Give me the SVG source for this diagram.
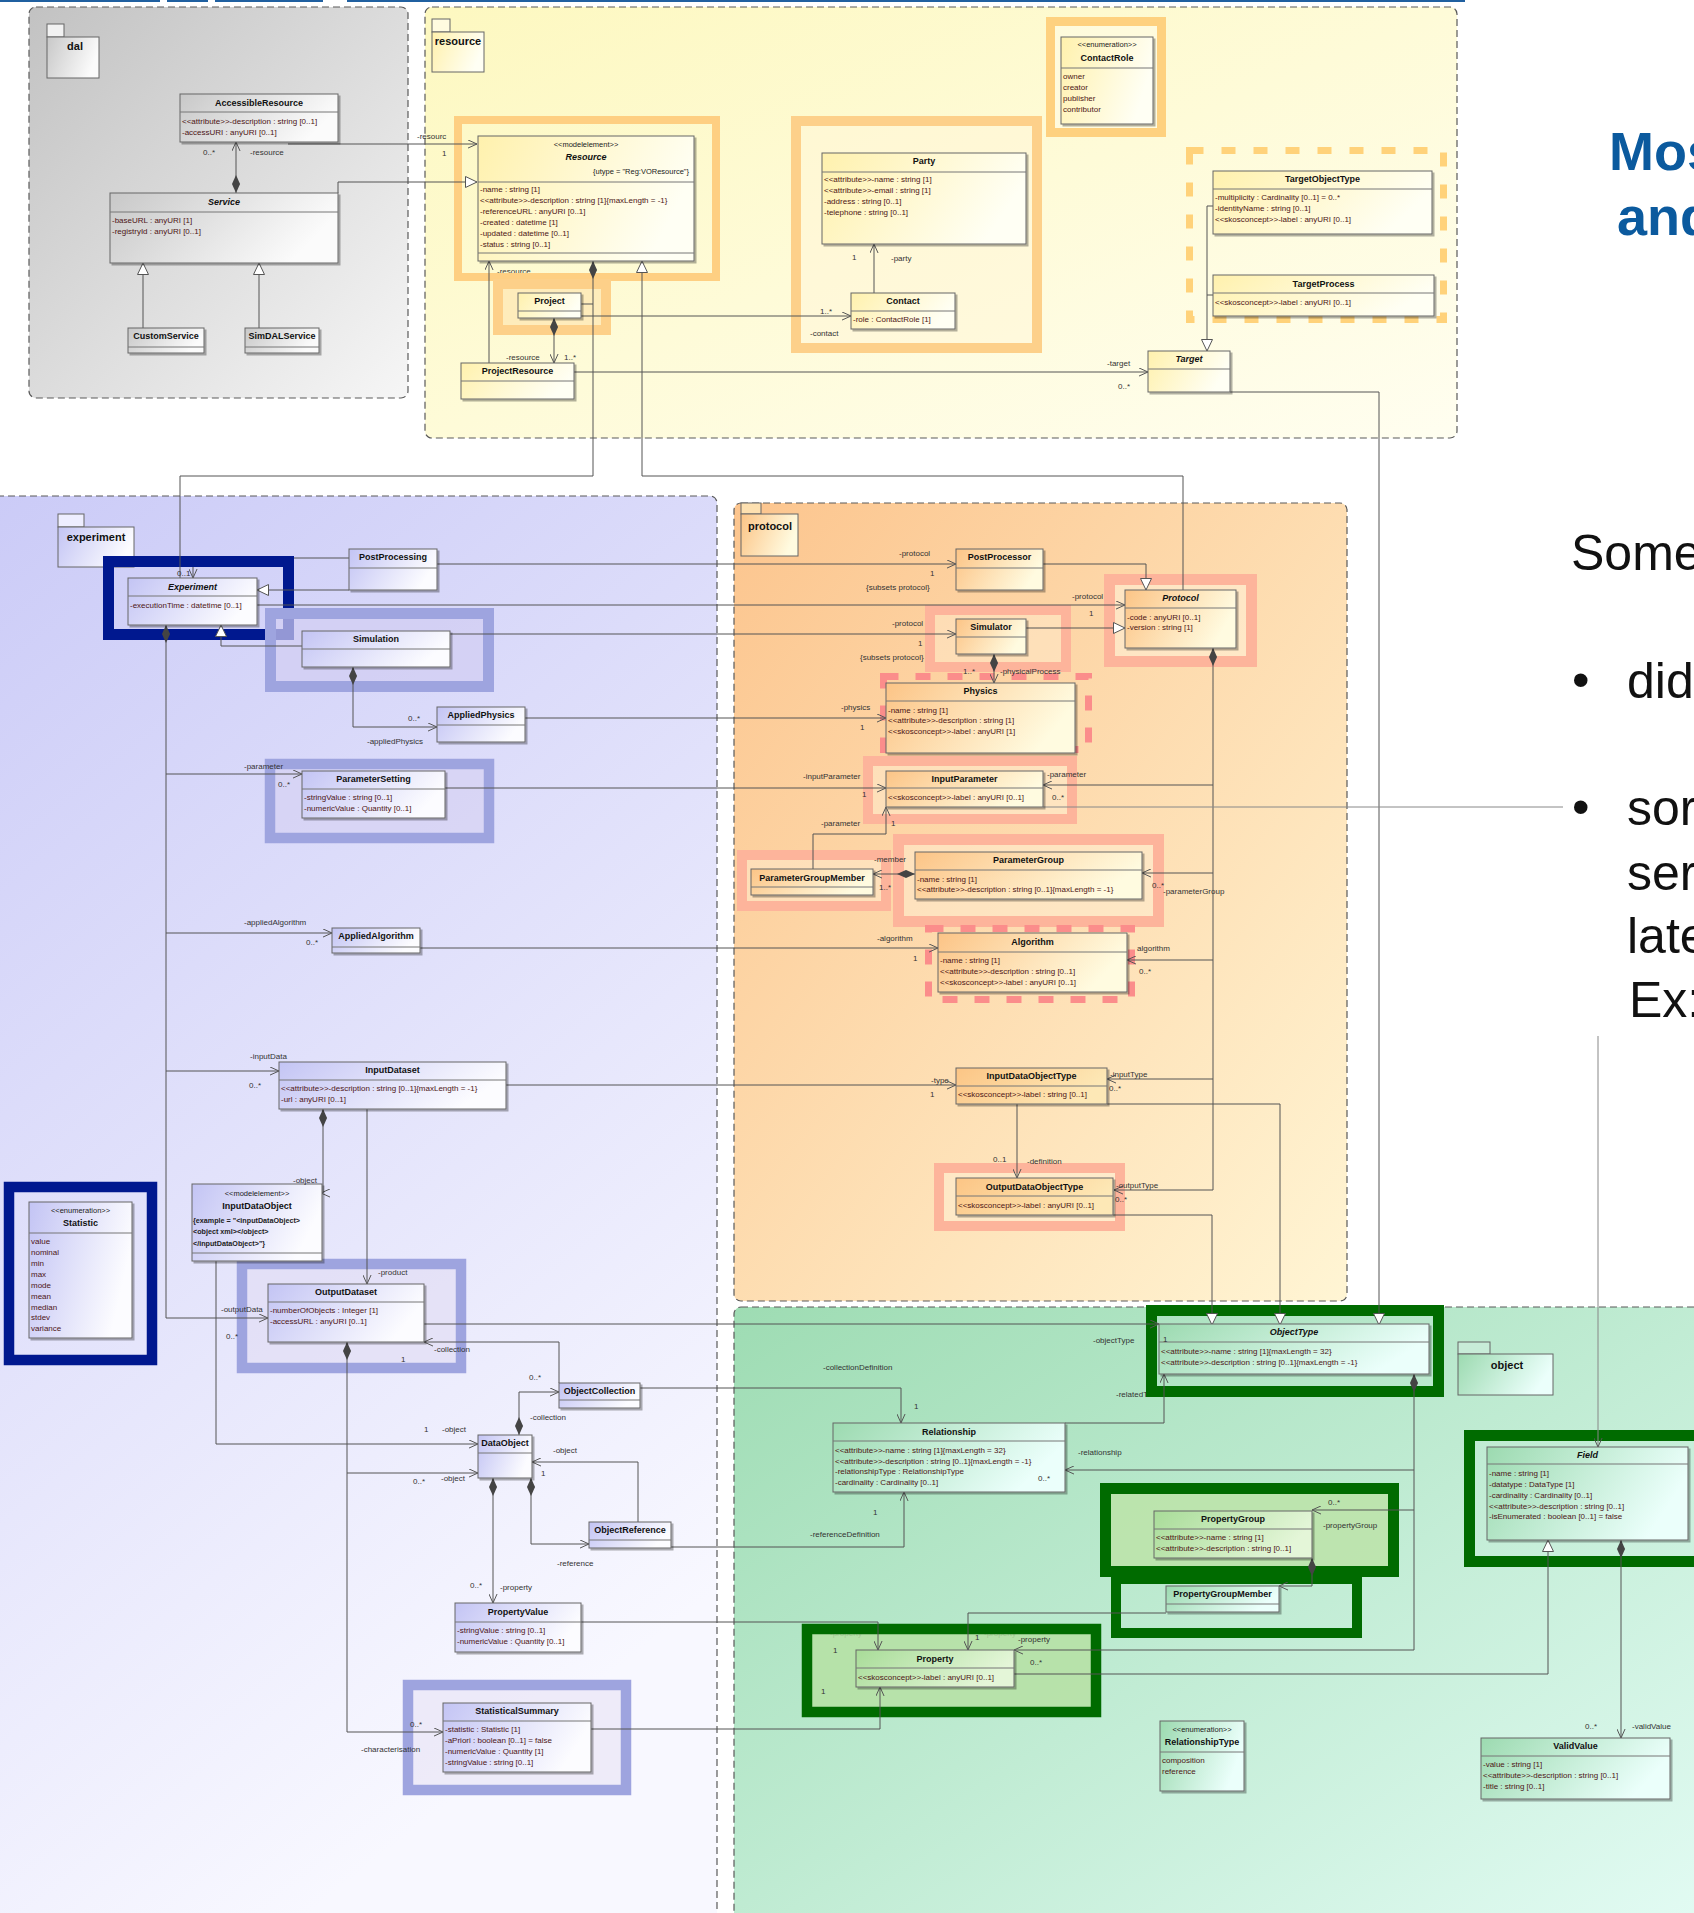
<svg xmlns="http://www.w3.org/2000/svg" width="1694" height="1913" viewBox="0 0 1694 1913">
<style>
.pk{stroke:#5a5a5a;stroke-width:1.2;stroke-dasharray:7 4}
.tab{stroke:#666;stroke-width:1}
.pl{font-family:'Liberation Sans',Arial,sans-serif;font-size:11px;font-weight:bold;fill:#111;text-anchor:middle}
.b{stroke:#666;stroke-width:1;filter:url(#sh)}
.s{stroke:#777;stroke-width:1}
.t{font-family:'Liberation Sans',Arial,sans-serif;font-size:9px;font-weight:bold;text-anchor:middle;fill:#111}
.i{font-style:italic}
.a{font-family:'Liberation Sans',Arial,sans-serif;font-size:8px;fill:#4d1515}
.st{font-family:'Liberation Sans',Arial,sans-serif;font-size:7.5px;text-anchor:middle;fill:#222}
.cs{font-family:'Liberation Sans',Arial,sans-serif;font-size:7.2px;font-weight:bold;fill:#222}
.l{font-family:'Liberation Sans',Arial,sans-serif;font-size:8px;fill:#333}
.c{fill:none;stroke:#555;stroke-width:1}
.ar{marker-end:url(#open)}
.tr{marker-end:url(#tri)}
.dm{marker-start:url(#dia)}
.fo{fill:none;stroke:#fecf82}
.fs{stroke:#fdb49b}
.fb{fill:none;stroke:#00188f}
.fp{stroke:#9ea4df}
.fg{stroke:#006b00}
.big{font-family:'Liberation Sans',Arial,sans-serif;font-size:50px;fill:#111}
.ttl{font-family:'Liberation Sans',Arial,sans-serif;font-size:54px;font-weight:bold;fill:#0b5a9e}
</style>
<defs>
<filter id="sh" x="-5%" y="-5%" width="115%" height="130%"><feDropShadow dx="2" dy="2" stdDeviation="0.7" flood-color="#000" flood-opacity="0.3"/></filter>
<marker id="open" viewBox="0 0 10 10" refX="10" refY="5" markerWidth="9" markerHeight="9" markerUnits="userSpaceOnUse" orient="auto"><path d="M0,0.5 L10,5 L0,9.5" fill="none" stroke="#555" stroke-width="1.1"/></marker>
<marker id="tri" viewBox="0 0 12 12" refX="12" refY="6" markerWidth="12" markerHeight="12" markerUnits="userSpaceOnUse" orient="auto"><path d="M0.5,0.5 L12,6 L0.5,11.5 Z" fill="#fff" stroke="#555"/></marker>
<marker id="dia" viewBox="0 0 20 10" refX="0" refY="5" markerWidth="20" markerHeight="9" markerUnits="userSpaceOnUse" orient="auto"><path d="M0,5 L10,0.5 L20,5 L10,9.5 Z" fill="#444"/></marker>
<linearGradient id="pkD" x1="0" y1="0" x2="1" y2="1"><stop offset="0" stop-color="#c2c2c2"/><stop offset="1" stop-color="#f6f6f6"/></linearGradient>
<linearGradient id="pkR" x1="0" y1="0" x2="1" y2="1"><stop offset="0" stop-color="#fdf8c0"/><stop offset="1" stop-color="#fffef0"/></linearGradient>
<linearGradient id="pkE" x1="0" y1="0" x2="0.4" y2="1"><stop offset="0" stop-color="#cbcbf7"/><stop offset="1" stop-color="#f8f8ff"/></linearGradient>
<linearGradient id="pkP" x1="0" y1="0" x2="1" y2="1"><stop offset="0" stop-color="#fcc58e"/><stop offset="1" stop-color="#fff5d4"/></linearGradient>
<linearGradient id="pkO" x1="0" y1="0" x2="1" y2="1"><stop offset="0" stop-color="#9edcb3"/><stop offset="1" stop-color="#e4fcf5"/></linearGradient>
<linearGradient id="bxD" x1="0" y1="0" x2="1" y2="0.3"><stop offset="0" stop-color="#c8c8c8"/><stop offset="1" stop-color="#fbfbfb"/></linearGradient>
<linearGradient id="bxR" x1="0" y1="0" x2="1" y2="0.3"><stop offset="0" stop-color="#fff1ad"/><stop offset="1" stop-color="#fffff4"/></linearGradient>
<linearGradient id="bxE" x1="0" y1="0" x2="1" y2="0.3"><stop offset="0" stop-color="#c3c4f4"/><stop offset="1" stop-color="#fcfcff"/></linearGradient>
<linearGradient id="bxP" x1="0" y1="0" x2="1" y2="0.3"><stop offset="0" stop-color="#fcc486"/><stop offset="1" stop-color="#fffbe0"/></linearGradient>
<linearGradient id="bxP2" x1="0" y1="0" x2="1" y2="0.3"><stop offset="0" stop-color="#fcc585"/><stop offset="1" stop-color="#fde8b6"/></linearGradient>
<linearGradient id="bxO" x1="0" y1="0" x2="1" y2="0.3"><stop offset="0" stop-color="#9cdab0"/><stop offset="1" stop-color="#ebfffb"/></linearGradient>
<linearGradient id="bxG" x1="0" y1="0" x2="1" y2="0.3"><stop offset="0" stop-color="#a8dc98"/><stop offset="1" stop-color="#e4f6d8"/></linearGradient>
</defs>
<rect width="1694" height="1913" fill="#fff"/>
<g id="topline" fill="#2060a0"><rect x="0" y="0" width="160" height="2"/><rect x="167" y="0" width="41" height="2"/><rect x="215" y="0" width="108" height="2"/><rect x="347" y="0" width="1118" height="2"/></g>

<!-- packages -->
<g id="pkg-dal"><rect class="pk" x="29" y="7" width="379" height="391" rx="7" fill="url(#pkD)"/><rect class="tab" x="47" y="24" width="17" height="13" fill="#f2f2f2"/><rect class="tab" x="47" y="37" width="52" height="41" fill="url(#bxD)"/><text class="pl" x="75" y="50">dal</text></g>
<g id="pkg-resource"><rect class="pk" x="425" y="7" width="1032" height="431" rx="7" fill="url(#pkR)"/><rect class="tab" x="432" y="19" width="18" height="13" fill="#fffbe0"/><rect class="tab" x="432" y="32" width="52" height="40" fill="url(#bxR)"/><text class="pl" x="458" y="45">resource</text></g>
<g id="pkg-experiment"><rect class="pk" x="-10" y="496" width="727" height="1440" rx="7" fill="url(#pkE)"/><rect class="tab" x="58" y="514" width="26" height="13" fill="#eeeeff"/><rect class="tab" x="58" y="527" width="76" height="40" fill="url(#bxE)"/><text class="pl" x="96" y="541">experiment</text></g>
<g id="pkg-protocol"><rect class="pk" x="734" y="503" width="613" height="798" rx="7" fill="url(#pkP)"/><rect class="tab" x="741" y="503" width="20" height="11" fill="#fde0b0"/><rect class="tab" x="741" y="514" width="57" height="42" fill="url(#bxP)"/><text class="pl" x="770" y="530">protocol</text></g>
<g id="pkg-object"><rect class="pk" x="734" y="1307" width="990" height="640" rx="7" fill="url(#pkO)"/><rect class="tab" x="1458" y="1342" width="32" height="12" fill="#c8ecd8"/><rect class="tab" x="1458" y="1354" width="95" height="41" fill="url(#bxO)"/><text class="pl" x="1507" y="1369">object</text></g>

<!-- occluded labels -->
<g id="under-labels" class="l">
<text x="497" y="274">-resource</text>
<text x="1116" y="1397">-relatedTo</text>
<text x="1235" y="1583">-member</text>
<text x="984" y="1636">-property</text>
<text x="830" y="1636">-property</text>
</g>

<!-- highlight frames -->
<g id="highlights">
<rect class="fo" x="458" y="120" width="258" height="157" stroke-width="8"/>
<rect x="498" y="284" width="108" height="46" fill="#fde6b0" fill-opacity="0.7" stroke="#fdd089" stroke-width="10"/>
<rect x="796" y="121" width="241" height="227" fill="#fff6d8" fill-opacity="0.5" stroke="#fdd08a" stroke-width="10"/>
<rect x="1050.5" y="21.5" width="111" height="111" fill="#fffbe4" fill-opacity="0.6" stroke="#fed17f" stroke-width="9"/>
<rect x="1189.5" y="150.5" width="254" height="169" fill="none" stroke="#ffd27a" stroke-width="7" stroke-dasharray="14 18"/>
<rect class="fs" x="1109.5" y="579.5" width="142" height="82" fill="#fff0d8" fill-opacity="0.55" stroke-width="11"/>
<rect class="fs" x="930" y="610" width="136" height="57" fill="#fff0d8" fill-opacity="0.4" stroke-width="10"/>
<rect class="fs" x="868" y="761" width="204" height="58" fill="#fff0d8" fill-opacity="0.45" stroke-width="10"/>
<rect class="fs" x="742" y="855" width="144" height="51" fill="#fff0d8" fill-opacity="0.45" stroke-width="10"/>
<rect class="fs" x="898.5" y="839.5" width="260" height="82" fill="#fff0d8" fill-opacity="0.45" stroke-width="11"/>
<rect class="fs" x="939" y="1168" width="181" height="58" fill="#fff0d8" fill-opacity="0.45" stroke-width="10"/>
<rect x="883.5" y="676.5" width="205" height="73" fill="none" stroke="#fb8d8b" stroke-width="7" stroke-dasharray="15 17"/>
<rect x="928.5" y="928.5" width="203" height="71" fill="none" stroke="#fb8d8b" stroke-width="7" stroke-dasharray="15 17"/>
<rect class="fb" x="108.5" y="561.5" width="180" height="73" stroke-width="11"/>
<rect class="fb" x="9" y="1187" width="143" height="173" stroke-width="10.5"/>
<rect class="fp" x="270.5" y="613.5" width="218" height="73" fill="#d2cdf2" fill-opacity="0.7" stroke-width="11"/>
<rect class="fp" x="270" y="764" width="219" height="74" fill="#d6d1f2" fill-opacity="0.6" stroke-width="10.5"/>
<rect class="fp" x="242" y="1264" width="219" height="104" fill="#e1dcf4" fill-opacity="0.6" stroke-width="10.5"/>
<rect class="fp" x="408" y="1685" width="218" height="105" fill="#e7e2f5" fill-opacity="0.6" stroke-width="10.5"/>
<rect class="fg" x="1151.5" y="1310.5" width="287" height="81" fill="none" stroke-width="11"/>
<rect class="fg" x="1469.5" y="1435.5" width="240" height="126" fill="none" stroke-width="11"/>
<rect class="fg" x="1105.5" y="1488.5" width="288" height="83" fill="#bce3a8" fill-opacity="0.85" stroke-width="11"/>
<rect class="fg" x="1116" y="1579" width="241" height="54" fill="none" stroke-width="10"/>
<rect class="fg" x="807" y="1629" width="289" height="83" fill="#b6e0a3" fill-opacity="0.85" stroke-width="10.5"/>
</g>

<!-- connectors -->
<g id="connectors">
<path class="c dm ar" d="M236,193 V142"/>
<path class="c ar" d="M288,144 H477"/>
<path class="c tr" d="M338,193 V182 H477"/>
<path class="c tr" d="M143,328 V263"/>
<path class="c tr" d="M259,328 V263"/>
<path class="c ar" d="M489,363 V261"/>
<path class="c dm" d="M593,261 V476 H180 V578"/>
<path class="c" d="M581,304 H593"/>
<path class="c ar" d="M581,316 H851"/>
<path class="c ar" d="M874,293 V244"/>
<path class="c dm ar" d="M554,318 V363"/>
<path class="c ar" d="M574,372 H1148"/>
<path class="c tr" d="M1183,590 V476 H642 V261"/>
<path class="c tr" d="M1213,206 H1207 V351"/>
<path class="c" d="M1213,295 H1207"/>
<path class="c tr" d="M1230,392 H1379 V1325"/>
<path class="c" d="M349,558 H294"/>
<path class="c ar" d="M193,567 V578"/>
<path class="c tr" d="M349,590 H257"/>
<path class="c tr" d="M302,646 H221 V625"/>
<path class="c dm ar" d="M166,625 V1318 H268"/>
<path class="c ar" d="M166,774 H302"/>
<path class="c ar" d="M166,933 H332"/>
<path class="c ar" d="M166,1071 H279"/>
<path class="c dm ar" d="M353,667 V727 H437"/>
<path class="c ar" d="M437,564 H956"/>
<path class="c ar" d="M257,605 H1125"/>
<path class="c ar" d="M450,634 H956"/>
<path class="c ar" d="M525,718 H886"/>
<path class="c ar" d="M445,788 H886"/>
<path class="c ar" d="M420,948 H938"/>
<path class="c ar" d="M506,1085 H956"/>
<path class="c dm ar" d="M323,1109 V1193 H321"/>
<path class="c ar" d="M367,1109 V1284"/>
<path class="c ar" d="M216,1261 V1444 H478"/>
<path class="c dm ar" d="M347,1342 V1732 H443"/>
<path class="c ar" d="M347,1473 H478"/>
<path class="c ar" d="M559,1383 V1342 H424"/>
<path class="c ar" d="M424,1324 H1159"/>
<path class="c dm ar" d="M519,1435 V1392 H559"/>
<path class="c ar" d="M638,1522 V1462 H532"/>
<path class="c dm ar" d="M531,1478 V1544 H589"/>
<path class="c dm ar" d="M493,1478 V1603"/>
<path class="c ar" d="M640,1388 H901 V1423"/>
<path class="c ar" d="M671,1547 H904 V1492"/>
<path class="c tr" d="M1043,564 H1146 V590"/>
<path class="c tr" d="M1026,628 H1125"/>
<path class="c dm ar" d="M994,654 V683"/>
<path class="c dm ar" d="M1213,648 V1190 H1114"/>
<path class="c ar" d="M1213,785 H1043"/>
<path class="c ar" d="M1213,873 H1142"/>
<path class="c ar" d="M1213,960 H1127"/>
<path class="c ar" d="M1213,1079 H1107"/>
<path class="c dm ar" d="M915,874 H873"/>
<path class="c ar" d="M813,869 V834 H886 V807"/>
<path class="c ar" d="M1017,1104 V1178"/>
<path class="c tr" d="M1107,1104 H1280 V1325"/>
<path class="c tr" d="M1113,1215 H1212 V1325"/>
<path class="c ar" d="M1065,1423 H1164 V1374"/>
<path class="c dm ar" d="M1414,1374 V1650 H1014"/>
<path class="c ar" d="M1414,1470 H1065"/>
<path class="c ar" d="M1414,1510 H1312"/>
<path class="c dm ar" d="M1312,1558 V1586 H1279"/>
<path class="c ar" d="M1166,1613 H968 V1650"/>
<path class="c ar" d="M581,1622 H878 V1650"/>
<path class="c ar" d="M591,1729 H880 V1687"/>
<path class="c tr" d="M1014,1674 H1548 V1540"/>
<path class="c dm ar" d="M1621,1540 V1738"/>
<path class="c" style="stroke:#888" d="M1043,807 H1563"/>
<path class="c ar" style="stroke:#888" d="M1598,1036 V1447"/>
</g>

<!-- nodes -->
<g id="AccessibleResource"><rect class="b" x="180" y="94" width="158" height="48" fill="url(#bxD)"/><line class="s" x1="180" y1="112" x2="338" y2="112"/><text class="t" x="259" y="106">AccessibleResource</text><text class="a" x="182" y="124">&lt;&lt;attribute&gt;&gt;-description : string [0..1]</text><text class="a" x="182" y="135">-accessURI : anyURI [0..1]</text></g>
<g id="Service"><rect class="b" x="110" y="193" width="228" height="70" fill="url(#bxD)"/><line class="s" x1="110" y1="212" x2="338" y2="212"/><text class="t i" x="224" y="205">Service</text><text class="a" x="112" y="223">-baseURL : anyURI [1]</text><text class="a" x="112" y="234">-registryId : anyURI [0..1]</text></g>
<g id="CustomService"><rect class="b" x="128" y="328" width="76" height="25" fill="url(#bxD)"/><line class="s" x1="128" y1="347" x2="204" y2="347"/><text class="t" x="166" y="339">CustomService</text></g>
<g id="SimDALService"><rect class="b" x="245" y="328" width="74" height="25" fill="url(#bxD)"/><line class="s" x1="245" y1="347" x2="319" y2="347"/><text class="t" x="282" y="339">SimDALService</text></g>

<g id="Resource"><rect class="b" x="478" y="136" width="216" height="125" fill="url(#bxR)"/><text class="st" x="586" y="147">&lt;&lt;modelelement&gt;&gt;</text><text class="t i" x="586" y="160">Resource</text><text class="st" x="689" y="174" text-anchor="end" style="text-anchor:end">{utype = "Reg:VOResource"}</text><line class="s" x1="478" y1="182" x2="694" y2="182"/><text class="a" x="480" y="192">-name : string [1]</text><text class="a" x="480" y="203">&lt;&lt;attribute&gt;&gt;-description : string [1]{maxLength = -1}</text><text class="a" x="480" y="214">-referenceURL : anyURI [0..1]</text><text class="a" x="480" y="225">-created : datetime [1]</text><text class="a" x="480" y="236">-updated : datetime [0..1]</text><text class="a" x="480" y="247">-status : string [0..1]</text><line class="s" x1="478" y1="253" x2="694" y2="253"/></g>
<g id="Project"><rect class="b" x="518" y="293" width="63" height="25" fill="url(#bxR)"/><line class="s" x1="518" y1="311" x2="581" y2="311"/><text class="t" x="549.5" y="304">Project</text></g>
<g id="ProjectResource"><rect class="b" x="461" y="363" width="113" height="36" fill="url(#bxR)"/><line class="s" x1="461" y1="381" x2="574" y2="381"/><text class="t" x="517.5" y="374">ProjectResource</text></g>
<g id="Party"><rect class="b" x="822" y="153" width="204" height="91" fill="url(#bxR)"/><line class="s" x1="822" y1="172" x2="1026" y2="172"/><text class="t" x="924" y="164">Party</text><text class="a" x="824" y="182">&lt;&lt;attribute&gt;&gt;-name : string [1]</text><text class="a" x="824" y="193">&lt;&lt;attribute&gt;&gt;-email : string [1]</text><text class="a" x="824" y="204">-address : string [0..1]</text><text class="a" x="824" y="215">-telephone : string [0..1]</text></g>
<g id="Contact"><rect class="b" x="851" y="293" width="104" height="36" fill="url(#bxR)"/><line class="s" x1="851" y1="311" x2="955" y2="311"/><text class="t" x="903" y="304">Contact</text><text class="a" x="853" y="322">-role : ContactRole [1]</text></g>
<g id="ContactRole"><rect class="b" x="1061" y="37" width="92" height="87" fill="url(#bxR)"/><text class="st" x="1107" y="47">&lt;&lt;enumeration&gt;&gt;</text><text class="t" x="1107" y="61">ContactRole</text><line class="s" x1="1061" y1="68" x2="1153" y2="68"/><text class="a" x="1063" y="79">owner</text><text class="a" x="1063" y="90">creator</text><text class="a" x="1063" y="101">publisher</text><text class="a" x="1063" y="112">contributor</text></g>
<g id="TargetObjectType"><rect class="b" x="1213" y="171" width="219" height="63" fill="url(#bxR)"/><line class="s" x1="1213" y1="189" x2="1432" y2="189"/><text class="t" x="1322.5" y="182">TargetObjectType</text><text class="a" x="1215" y="200">-multiplicity : Cardinality [0..1] = 0..*</text><text class="a" x="1215" y="211">-identityName : string [0..1]</text><text class="a" x="1215" y="222">&lt;&lt;skosconcept&gt;&gt;-label : anyURI [0..1]</text></g>
<g id="TargetProcess"><rect class="b" x="1213" y="275" width="221" height="41" fill="url(#bxR)"/><line class="s" x1="1213" y1="293" x2="1434" y2="293"/><text class="t" x="1323.5" y="287">TargetProcess</text><text class="a" x="1215" y="305">&lt;&lt;skosconcept&gt;&gt;-label : anyURI [0..1]</text></g>
<g id="Target"><rect class="b" x="1148" y="351" width="82" height="41" fill="url(#bxR)"/><line class="s" x1="1148" y1="369" x2="1230" y2="369"/><text class="t i" x="1189" y="362">Target</text></g>

<g id="Experiment"><rect class="b" x="128" y="578" width="129" height="47" fill="url(#bxE)"/><line class="s" x1="128" y1="596" x2="257" y2="596"/><text class="t i" x="192.5" y="590">Experiment</text><text class="a" x="130" y="608">-executionTime : datetime [0..1]</text></g>
<g id="PostProcessing"><rect class="b" x="349" y="549" width="88" height="41" fill="url(#bxE)"/><line class="s" x1="349" y1="568" x2="437" y2="568"/><text class="t" x="393" y="560">PostProcessing</text></g>
<g id="Simulation"><rect class="b" x="302" y="631" width="148" height="36" fill="url(#bxE)"/><line class="s" x1="302" y1="649" x2="450" y2="649"/><text class="t" x="376" y="642">Simulation</text></g>
<g id="AppliedPhysics"><rect class="b" x="437" y="707" width="88" height="35" fill="url(#bxE)"/><line class="s" x1="437" y1="725" x2="525" y2="725"/><text class="t" x="481" y="718">AppliedPhysics</text></g>
<g id="ParameterSetting"><rect class="b" x="302" y="771" width="143" height="47" fill="url(#bxE)"/><line class="s" x1="302" y1="789" x2="445" y2="789"/><text class="t" x="373.5" y="782">ParameterSetting</text><text class="a" x="304" y="800">-stringValue : string [0..1]</text><text class="a" x="304" y="811">-numericValue : Quantity [0..1]</text></g>
<g id="AppliedAlgorithm"><rect class="b" x="332" y="928" width="88" height="25" fill="url(#bxE)"/><line class="s" x1="332" y1="947" x2="420" y2="947"/><text class="t" x="376" y="939">AppliedAlgorithm</text></g>
<g id="InputDataset"><rect class="b" x="279" y="1062" width="227" height="47" fill="url(#bxE)"/><line class="s" x1="279" y1="1080" x2="506" y2="1080"/><text class="t" x="392.5" y="1073">InputDataset</text><text class="a" x="281" y="1091">&lt;&lt;attribute&gt;&gt;-description : string [0..1]{maxLength = -1}</text><text class="a" x="281" y="1102">-url : anyURI [0..1]</text></g>
<g id="InputDataObject"><rect class="b" x="192" y="1184" width="130" height="77" fill="url(#bxE)"/><text class="st" x="257" y="1196">&lt;&lt;modelelement&gt;&gt;</text><text class="t" x="257" y="1209">InputDataObject</text><text class="cs" x="193" y="1223">{example = "&lt;inputDataObject&gt;</text><text class="cs" x="193" y="1234">&lt;object xml&gt;&lt;/object&gt;</text><text class="cs" x="193" y="1246">&lt;/inputDataObject&gt;"}</text><line class="s" x1="192" y1="1253" x2="322" y2="1253"/></g>
<g id="OutputDataset"><rect class="b" x="268" y="1284" width="156" height="58" fill="url(#bxE)"/><line class="s" x1="268" y1="1302" x2="424" y2="1302"/><text class="t" x="346" y="1295">OutputDataset</text><text class="a" x="270" y="1313">-numberOfObjects : Integer [1]</text><text class="a" x="270" y="1324">-accessURL : anyURI [0..1]</text></g>
<g id="ObjectCollection"><rect class="b" x="559" y="1383" width="81" height="25" fill="url(#bxE)"/><line class="s" x1="559" y1="1400" x2="640" y2="1400"/><text class="t" x="599.5" y="1394">ObjectCollection</text></g>
<g id="DataObject"><rect class="b" x="478" y="1435" width="54" height="43" fill="url(#bxE)"/><line class="s" x1="478" y1="1453" x2="532" y2="1453"/><text class="t" x="505" y="1446">DataObject</text></g>
<g id="ObjectReference"><rect class="b" x="589" y="1522" width="82" height="26" fill="url(#bxE)"/><line class="s" x1="589" y1="1540" x2="671" y2="1540"/><text class="t" x="630" y="1533">ObjectReference</text></g>
<g id="PropertyValue"><rect class="b" x="455" y="1603" width="126" height="49" fill="url(#bxE)"/><line class="s" x1="455" y1="1622" x2="581" y2="1622"/><text class="t" x="518" y="1615">PropertyValue</text><text class="a" x="457" y="1633">-stringValue : string [0..1]</text><text class="a" x="457" y="1644">-numericValue : Quantity [0..1]</text></g>
<g id="StatisticalSummary"><rect class="b" x="443" y="1703" width="148" height="69" fill="url(#bxE)"/><line class="s" x1="443" y1="1721" x2="591" y2="1721"/><text class="t" x="517" y="1714">StatisticalSummary</text><text class="a" x="445" y="1732">-statistic : Statistic [1]</text><text class="a" x="445" y="1743">-aPriori : boolean [0..1] = false</text><text class="a" x="445" y="1754">-numericValue : Quantity [1]</text><text class="a" x="445" y="1765">-stringValue : string [0..1]</text></g>
<g id="Statistic"><rect class="b" x="29" y="1202" width="103" height="136" fill="url(#bxE)"/><text class="st" x="80.5" y="1213">&lt;&lt;enumeration&gt;&gt;</text><text class="t" x="80.5" y="1226">Statistic</text><line class="s" x1="29" y1="1233" x2="132" y2="1233"/><text class="a" x="31" y="1244">value</text><text class="a" x="31" y="1255">nominal</text><text class="a" x="31" y="1266">min</text><text class="a" x="31" y="1277">max</text><text class="a" x="31" y="1288">mode</text><text class="a" x="31" y="1299">mean</text><text class="a" x="31" y="1310">median</text><text class="a" x="31" y="1320">stdev</text><text class="a" x="31" y="1331">variance</text></g>

<g id="PostProcessor"><rect class="b" x="956" y="549" width="87" height="41" fill="url(#bxP)"/><line class="s" x1="956" y1="568" x2="1043" y2="568"/><text class="t" x="999.5" y="560">PostProcessor</text></g>
<g id="Protocol"><rect class="b" x="1125" y="590" width="111" height="58" fill="url(#bxP)"/><line class="s" x1="1125" y1="608" x2="1236" y2="608"/><text class="t i" x="1180.5" y="601">Protocol</text><text class="a" x="1127" y="620">-code : anyURI [0..1]</text><text class="a" x="1127" y="630">-version : string [1]</text></g>
<g id="Simulator"><rect class="b" x="956" y="619" width="70" height="35" fill="url(#bxP)"/><line class="s" x1="956" y1="637" x2="1026" y2="637"/><text class="t" x="991" y="630">Simulator</text></g>
<g id="Physics"><rect class="b" x="886" y="683" width="189" height="70" fill="url(#bxP)"/><line class="s" x1="886" y1="701" x2="1075" y2="701"/><text class="t" x="980.5" y="694">Physics</text><text class="a" x="888" y="713">-name : string [1]</text><text class="a" x="888" y="723">&lt;&lt;attribute&gt;&gt;-description : string [1]</text><text class="a" x="888" y="734">&lt;&lt;skosconcept&gt;&gt;-label : anyURI [1]</text></g>
<g id="InputParameter"><rect class="b" x="886" y="771" width="157" height="36" fill="url(#bxP)"/><line class="s" x1="886" y1="788" x2="1043" y2="788"/><text class="t" x="964.5" y="782">InputParameter</text><text class="a" x="888" y="800">&lt;&lt;skosconcept&gt;&gt;-label : anyURI [0..1]</text></g>
<g id="ParameterGroupMember"><rect class="b" x="751" y="869" width="122" height="26" fill="url(#bxP)"/><line class="s" x1="751" y1="887" x2="873" y2="887"/><text class="t" x="812" y="881">ParameterGroupMember</text></g>
<g id="ParameterGroup"><rect class="b" x="915" y="852" width="227" height="47" fill="url(#bxP)"/><line class="s" x1="915" y1="870" x2="1142" y2="870"/><text class="t" x="1028.5" y="863">ParameterGroup</text><text class="a" x="917" y="882">-name : string [1]</text><text class="a" x="917" y="892">&lt;&lt;attribute&gt;&gt;-description : string [0..1]{maxLength = -1}</text></g>
<g id="Algorithm"><rect class="b" x="938" y="933" width="189" height="59" fill="url(#bxP)"/><line class="s" x1="938" y1="952" x2="1127" y2="952"/><text class="t" x="1032.5" y="945">Algorithm</text><text class="a" x="940" y="963">-name : string [1]</text><text class="a" x="940" y="974">&lt;&lt;attribute&gt;&gt;-description : string [0..1]</text><text class="a" x="940" y="985">&lt;&lt;skosconcept&gt;&gt;-label : anyURI [0..1]</text></g>
<g id="InputDataObjectType"><rect class="b" x="956" y="1068" width="151" height="36" fill="url(#bxP2)"/><line class="s" x1="956" y1="1086" x2="1107" y2="1086"/><text class="t" x="1031.5" y="1079">InputDataObjectType</text><text class="a" x="958" y="1097">&lt;&lt;skosconcept&gt;&gt;-label : string [0..1]</text></g>
<g id="OutputDataObjectType"><rect class="b" x="956" y="1178" width="157" height="37" fill="url(#bxP2)"/><line class="s" x1="956" y1="1196" x2="1113" y2="1196"/><text class="t" x="1034.5" y="1190">OutputDataObjectType</text><text class="a" x="958" y="1208">&lt;&lt;skosconcept&gt;&gt;-label : anyURI [0..1]</text></g>

<g id="ObjectType"><rect class="b" x="1159" y="1324" width="270" height="50" fill="url(#bxO)"/><line class="s" x1="1159" y1="1342" x2="1429" y2="1342"/><text class="t i" x="1294" y="1335">ObjectType</text><text class="a" x="1161" y="1354">&lt;&lt;attribute&gt;&gt;-name : string [1]{maxLength = 32}</text><text class="a" x="1161" y="1365">&lt;&lt;attribute&gt;&gt;-description : string [0..1]{maxLength = -1}</text></g>
<g id="Relationship"><rect class="b" x="833" y="1423" width="232" height="69" fill="url(#bxO)"/><line class="s" x1="833" y1="1441" x2="1065" y2="1441"/><text class="t" x="949" y="1435">Relationship</text><text class="a" x="835" y="1453">&lt;&lt;attribute&gt;&gt;-name : string [1]{maxLength = 32}</text><text class="a" x="835" y="1464">&lt;&lt;attribute&gt;&gt;-description : string [0..1]{maxLength = -1}</text><text class="a" x="835" y="1474">-relationshipType : RelationshipType</text><text class="a" x="835" y="1485">-cardinality : Cardinality [0..1]</text></g>
<g id="PropertyGroup"><rect class="b" x="1154" y="1511" width="158" height="47" fill="url(#bxG)"/><line class="s" x1="1154" y1="1529" x2="1312" y2="1529"/><text class="t" x="1233" y="1522">PropertyGroup</text><text class="a" x="1156" y="1540">&lt;&lt;attribute&gt;&gt;-name : string [1]</text><text class="a" x="1156" y="1551">&lt;&lt;attribute&gt;&gt;-description : string [0..1]</text></g>
<g id="PropertyGroupMember"><rect class="b" x="1166" y="1586" width="113" height="26" fill="url(#bxO)"/><line class="s" x1="1166" y1="1604" x2="1279" y2="1604"/><text class="t" x="1222.5" y="1597">PropertyGroupMember</text></g>
<g id="Property"><rect class="b" x="856" y="1650" width="158" height="37" fill="url(#bxG)"/><line class="s" x1="856" y1="1668" x2="1014" y2="1668"/><text class="t" x="935" y="1662">Property</text><text class="a" x="858" y="1680">&lt;&lt;skosconcept&gt;&gt;-label : anyURI [0..1]</text></g>
<g id="Field"><rect class="b" x="1487" y="1447" width="201" height="93" fill="url(#bxO)"/><line class="s" x1="1487" y1="1464" x2="1688" y2="1464"/><text class="t i" x="1587.5" y="1458">Field</text><text class="a" x="1489" y="1476">-name : string [1]</text><text class="a" x="1489" y="1487">-datatype : DataType [1]</text><text class="a" x="1489" y="1498">-cardinality : Cardinality [0..1]</text><text class="a" x="1489" y="1509">&lt;&lt;attribute&gt;&gt;-description : string [0..1]</text><text class="a" x="1489" y="1519">-isEnumerated : boolean [0..1] = false</text></g>
<g id="ValidValue"><rect class="b" x="1481" y="1738" width="189" height="61" fill="url(#bxO)"/><line class="s" x1="1481" y1="1756" x2="1670" y2="1756"/><text class="t" x="1575.5" y="1749">ValidValue</text><text class="a" x="1483" y="1767">-value : string [1]</text><text class="a" x="1483" y="1778">&lt;&lt;attribute&gt;&gt;-description : string [0..1]</text><text class="a" x="1483" y="1789">-title : string [0..1]</text></g>
<g id="RelationshipType"><rect class="b" x="1160" y="1721" width="84" height="70" fill="url(#bxO)"/><text class="st" x="1202" y="1732">&lt;&lt;enumeration&gt;&gt;</text><text class="t" x="1202" y="1745">RelationshipType</text><line class="s" x1="1160" y1="1752" x2="1244" y2="1752"/><text class="a" x="1162" y="1763">composition</text><text class="a" x="1162" y="1774">reference</text></g>

<!-- connector labels -->
<g id="labels" class="l">
<text x="203" y="155">0..*</text><text x="250" y="155">-resource</text>
<text x="417" y="139">-resourc</text><text x="442" y="156">1</text>
<text x="852" y="260">1</text><text x="891" y="261">-party</text>
<text x="820" y="314">1..*</text><text x="810" y="336">-contact</text>
<text x="506" y="360">-resource</text><text x="564" y="360">1..*</text>
<text x="1107" y="366">-target</text><text x="1118" y="389">0..*</text>
<text x="177" y="576">0..1</text>
<text x="408" y="721">0..*</text><text x="367" y="744">-appliedPhysics</text>
<text x="244" y="769">-parameter</text><text x="278" y="787">0..*</text>
<text x="244" y="925">-appliedAlgorithm</text><text x="306" y="945">0..*</text>
<text x="250" y="1059">-inputData</text><text x="249" y="1088">0..*</text>
<text x="293" y="1183">-object</text><text x="378" y="1275">-product</text>
<text x="221" y="1312">-outputData</text><text x="226" y="1339">0..*</text>
<text x="434" y="1352">-collection</text><text x="401" y="1362">1</text>
<text x="424" y="1432">1</text><text x="442" y="1432">-object</text>
<text x="413" y="1484">0..*</text><text x="441" y="1481">-object</text>
<text x="529" y="1380">0..*</text><text x="530" y="1420">-collection</text>
<text x="553" y="1453">-object</text><text x="541" y="1476">1</text>
<text x="557" y="1566">-reference</text>
<text x="470" y="1588">0..*</text><text x="500" y="1590">-property</text>
<text x="410" y="1727">0..*</text><text x="361" y="1752">-characterisation</text>
<text x="899" y="556">-protocol</text><text x="930" y="576">1</text><text x="866" y="590">{subsets protocol}</text>
<text x="1072" y="599">-protocol</text><text x="1089" y="616">1</text>
<text x="892" y="626">-protocol</text><text x="918" y="646">1</text><text x="860" y="660">{subsets protocol}</text>
<text x="841" y="710">-physics</text><text x="860" y="730">1</text>
<text x="803" y="779">-inputParameter</text><text x="862" y="797">1</text>
<text x="877" y="941">-algorithm</text><text x="913" y="961">1</text>
<text x="931" y="1083">-type</text><text x="930" y="1097">1</text>
<text x="963" y="674">1..*</text><text x="1000" y="674">-physicalProcess</text>
<text x="1047" y="777">-parameter</text><text x="1052" y="800">0..*</text>
<text x="874" y="862">-member</text><text x="879" y="890">1..*</text>
<text x="821" y="826">-parameter</text><text x="891" y="826">1</text>
<text x="1152" y="888">0..*</text><text x="1163" y="894">-parameterGroup</text>
<text x="1137" y="951">algorithm</text><text x="1139" y="974">0..*</text>
<text x="1110" y="1077">-inputType</text><text x="1109" y="1091">0..*</text>
<text x="993" y="1162">0..1</text><text x="1027" y="1164">-definition</text>
<text x="1116" y="1188">-outputType</text><text x="1115" y="1202">0..*</text>
<text x="1093" y="1343">-objectType</text><text x="1163" y="1342">1</text>
<text x="1078" y="1455">-relationship</text><text x="1038" y="1481">0..*</text>
<text x="823" y="1370">-collectionDefinition</text><text x="914" y="1409">1</text>
<text x="873" y="1515">1</text><text x="810" y="1537">-referenceDefinition</text>
<text x="1328" y="1505">0..*</text><text x="1323" y="1528">-propertyGroup</text>
<text x="1018" y="1642">-property</text><text x="1030" y="1665">0..*</text>
<text x="975" y="1640">1</text>
<text x="833" y="1653">1</text><text x="821" y="1694">1</text>
<text x="1585" y="1729">0..*</text><text x="1632" y="1729">-validValue</text>
</g>

<!-- slide text -->
<g id="slide-text">
<text class="ttl" x="1609" y="170">Mos</text>
<text class="ttl" x="1617" y="235">and</text>
<text class="big" x="1571" y="570">Some</text>
<text class="big" x="1572" y="697">•</text><text class="big" x="1627" y="698">did</text>
<text class="big" x="1572" y="824">•</text><text class="big" x="1627" y="825">sor</text>
<text class="big" x="1627" y="890">ser</text>
<text class="big" x="1627" y="953">late</text>
<text class="big" x="1629" y="1017">Ex:</text>
</g>
</svg>
